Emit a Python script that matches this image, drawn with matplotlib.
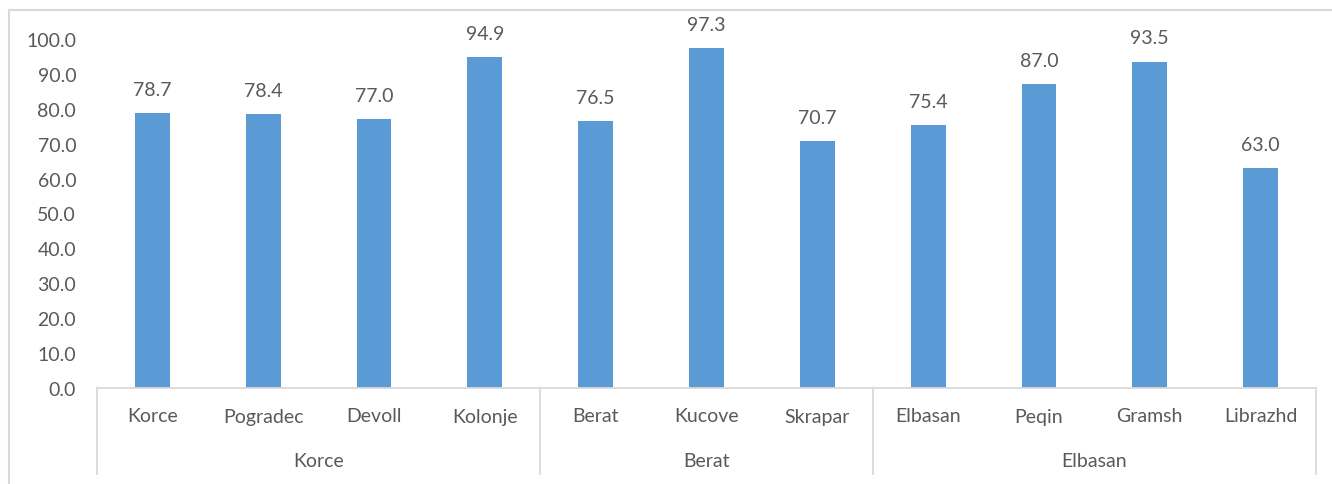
import matplotlib.pyplot as plt
from matplotlib.lines import Line2D

# datos
districts = ["Korce", "Pogradec", "Devoll", "Kolonje", "Berat", "Kucove", "Skrapar",
             "Elbasan", "Peqin", "Gramsh", "Librazhd"]
values = [78.7, 78.4, 77.0, 94.9, 76.5, 97.3, 70.7, 75.4, 87.0, 93.5, 63.0]
regions = ["Korce", "Berat", "Elbasan"]
region_sizes = [4, 3, 4]

plt.rcParams['font.family'] = ['Lato', 'DejaVu Sans']
txt = '#595959'
grid = '#D9D9D9'
fs = 14

W, H = 1332, 485
fig = plt.figure(figsize=(W / 100, H / 100), dpi=100)
x0, x1, y0, ytop = 97, 1316, 389, 40
ax = fig.add_axes([x0 / W, 1 - y0 / H, (x1 - x0) / W, (y0 - ytop) / H])

pos = list(range(len(values)))
ax.bar(pos, values, width=0.315, color='#5B9BD5')
ax.set_xlim(-0.5, len(values) - 0.5)
ax.set_ylim(0, 100)

ax.set_yticks(range(0, 101, 10))
ax.set_yticklabels([f"{v:.1f}" for v in range(0, 101, 10)])
ax.tick_params(axis='y', length=0, pad=15, labelsize=fs, labelcolor=txt)
ax.set_xticks([])
for s in ['left', 'right', 'top']:
    ax.spines[s].set_visible(False)
ax.spines['bottom'].set_color(grid)
ax.spines['bottom'].set_linewidth(1.3)

# etiquetas de valores
for p, v in zip(pos, values):
    ax.annotate(f"{v:.1f}", (p, v), xytext=(0, 11), textcoords='offset points',
                ha='center', va='bottom', fontsize=fs, color=txt)

# eje de categorias de dos niveles
sep_h = (475 - y0) / (y0 - ytop)
for p, name in zip(pos, districts):
    ax.annotate(name, (p, 0), xycoords=('data', 'axes fraction'),
                xytext=(0, -28 * 0.72), textcoords='offset points',
                ha='center', va='center', fontsize=fs, color=txt)
start = -0.5
bounds = [start]
for name, n in zip(regions, region_sizes):
    mid = start + n / 2
    ax.annotate(name, (mid, 0), xycoords=('data', 'axes fraction'),
                xytext=(0, -73 * 0.72), textcoords='offset points',
                ha='center', va='center', fontsize=fs, color=txt)
    start += n
    bounds.append(start)
for b in bounds:
    ax.plot([b, b], [0, -sep_h], color=grid, lw=1.3, clip_on=False,
            transform=ax.get_xaxis_transform())

# marco del grafico (recortado)
fig.add_artist(Line2D([9 / W, 9 / W], [0, 1 - 11 / H], color=grid, lw=1.5))
fig.add_artist(Line2D([9 / W, 1], [1 - 11 / H, 1 - 11 / H], color=grid, lw=1.5))

fig.savefig('out.png', dpi=100)
